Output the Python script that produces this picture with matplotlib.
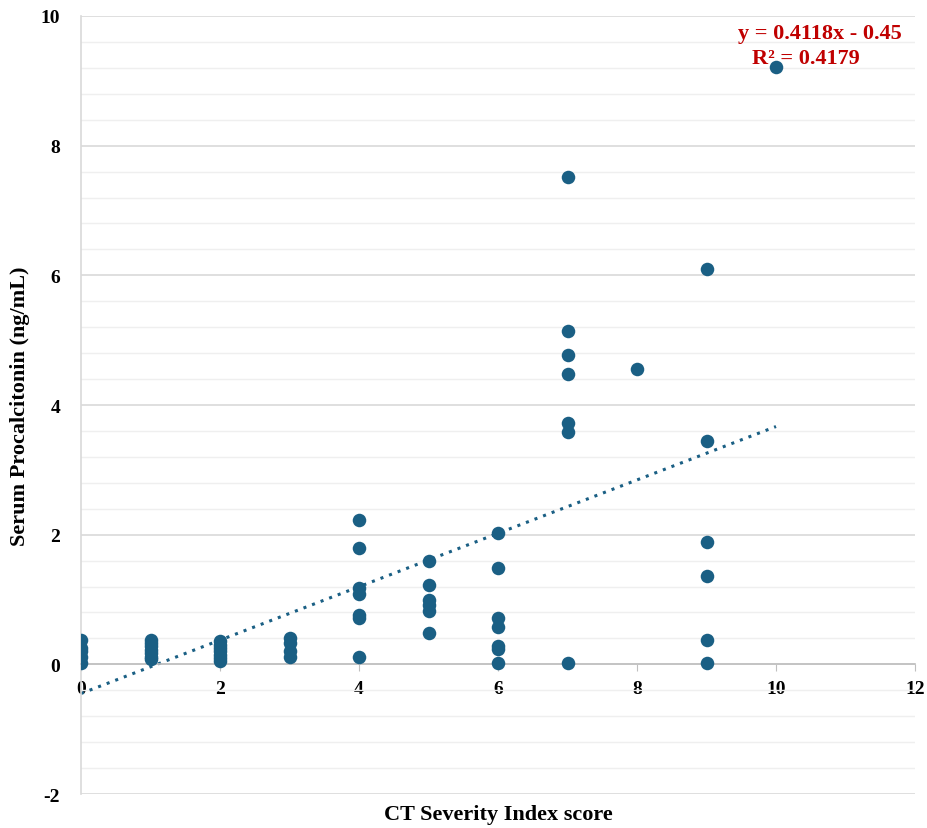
import numpy as np
import matplotlib
matplotlib.use("Agg")
import matplotlib.pyplot as plt
from matplotlib.ticker import MultipleLocator

# CT severity index score vs serum procalcitonin
ctsi = [0, 0, 0, 0, 0,
        1, 1, 1, 1, 1, 1, 1,
        2, 2, 2, 2, 2, 2, 2,
        3, 3, 3, 3,
        4, 4, 4, 4, 4, 4, 4,
        5, 5, 5, 5, 5, 5,
        6, 6, 6, 6, 6, 6, 6,
        7, 7, 7, 7, 7, 7, 7,
        8,
        9, 9, 9, 9, 9, 9,
        10]
pct = [0.38, 0.25, 0.2, 0.12, 0.02,
       0.38, 0.33, 0.28, 0.22, 0.18, 0.12, 0.08,
       0.36, 0.3, 0.25, 0.2, 0.15, 0.1, 0.05,
       0.4, 0.33, 0.2, 0.12,
       2.23, 1.79, 1.17, 1.09, 0.76, 0.71, 0.11,
       1.6, 1.22, 1.0, 0.92, 0.83, 0.49,
       2.03, 1.49, 0.72, 0.57, 0.29, 0.23, 0.02,
       7.52, 5.14, 4.77, 4.48, 3.73, 3.59, 0.02,
       4.55,
       6.09, 3.44, 1.88, 1.37, 0.38, 0.02,
       9.22]

slope = 0.4118
intercept = -0.45
trend_x = [0, 10]
eq_text = "y = 0.4118x - 0.45"
r2_text = "R² = 0.4179"

plt.rcParams['font.family'] = ['Liberation Serif', 'DejaVu Serif']
plt.rcParams['axes.unicode_minus'] = False

fig = plt.figure(figsize=(9.28, 8.29), dpi=100)
ax = fig.add_axes([0.0873, 0.041, 0.8987, 0.9385])

ax.set_xlim(0, 12)
ax.set_ylim(-2, 10)

ax.yaxis.set_major_locator(MultipleLocator(2))
ax.yaxis.set_minor_locator(MultipleLocator(0.4))
ax.xaxis.set_major_locator(MultipleLocator(2))

ax.grid(which='major', axis='y', color='#d9d9d9', lw=1.2, zorder=0)
ax.grid(which='minor', axis='y', color='#efefef', lw=1.0, zorder=0)
ax.set_axisbelow(True)

ax.scatter(ctsi, pct, s=95, color='#1a5f84', zorder=3, linewidths=0)

tx = np.array(trend_x, dtype=float)
ax.plot(tx, slope * tx + intercept, color='#1a5f84', lw=2.2, ls=(0, (1, 2)), zorder=2)

ax.text(0.8865, 0.978, eq_text, transform=ax.transAxes, ha='center', va='center',
        color='#c00000', fontsize=16, fontweight='bold')
ax.text(0.8695, 0.946, r2_text, transform=ax.transAxes, ha='center', va='center',
        color='#c00000', fontsize=16, fontweight='bold')

for s in ['top', 'right']:
    ax.spines[s].set_visible(False)
ax.spines['bottom'].set_position(('data', 0))
ax.spines['bottom'].set_color('#bfbfbf')
ax.spines['bottom'].set_linewidth(1.2)
ax.spines['left'].set_color('#d9d9d9')
ax.spines['left'].set_linewidth(1.2)

ax.tick_params(axis='x', which='major', length=5, color='#bfbfbf', labelsize=14, pad=6)
ax.tick_params(axis='y', which='both', length=0, labelsize=14, pad=15)
for lbl in ax.get_xticklabels() + ax.get_yticklabels():
    lbl.set_fontweight('bold')

ax.set_xlabel('CT Severity Index score', fontsize=16, fontweight='bold')
ax.set_ylabel('Serum Procalcitonin (ng/mL)', fontsize=16, fontweight='bold')
ax.xaxis.set_label_coords(0.5, -0.013)
ax.yaxis.set_label_coords(-0.061, 0.5)

fig.savefig('out.png', dpi=100)
